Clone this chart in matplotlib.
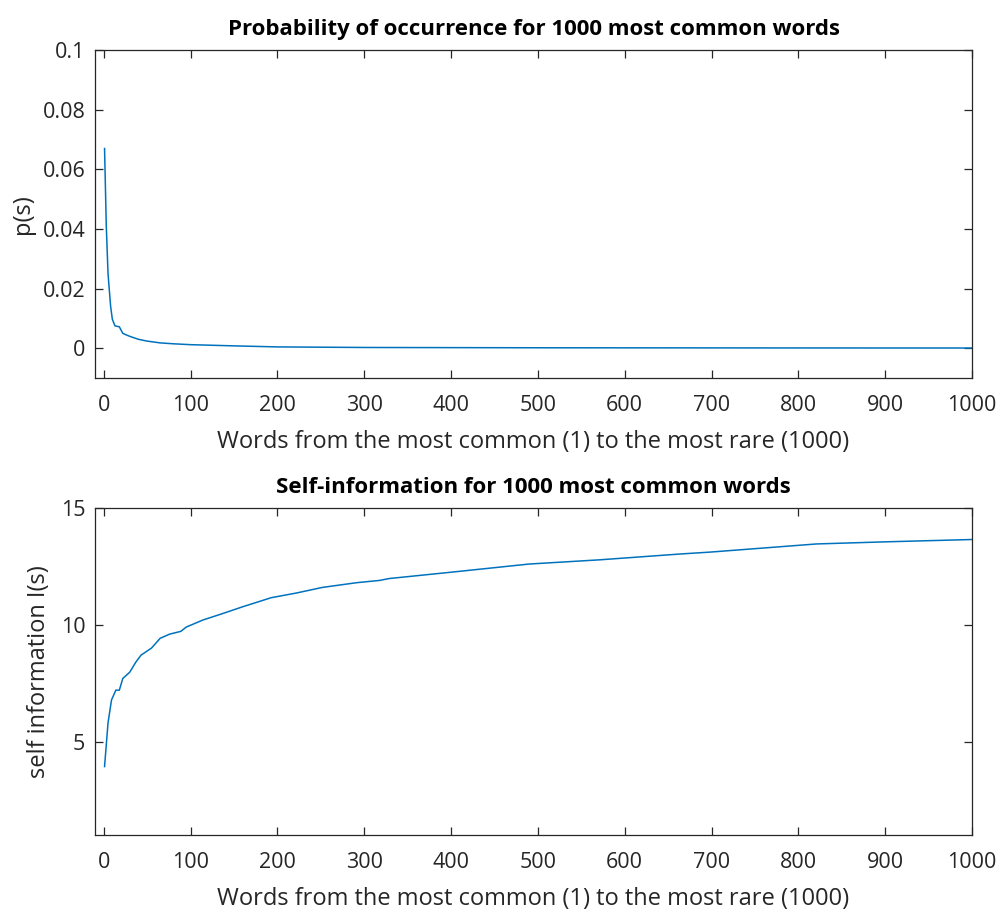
import numpy as np
import matplotlib
matplotlib.use('Agg')
import matplotlib.pyplot as plt

# probability of occurrence
rank_p = [1, 3, 5, 8, 10, 13, 18, 22, 25, 30, 40, 50, 65, 80, 100, 150, 200,
          300, 400, 500, 600, 700, 800, 900, 1000]
p_vals = [0.067, 0.041, 0.025, 0.014, 0.0097, 0.0075, 0.0072, 0.0050, 0.0046,
          0.0040, 0.0030, 0.0024, 0.0018, 0.0015, 0.0012, 0.0008, 0.00045,
          0.00026, 0.00021, 0.00016, 0.00014, 0.00012, 0.0001, 0.00009, 0.00008]

# self-information
rank_i = [1, 5, 9, 14, 18, 22, 30, 37, 43, 55, 65, 76, 89, 95, 114, 137, 160,
          193, 222, 252, 291, 318, 329, 400, 490, 571, 664, 698, 821, 900, 1000]
info_vals = [3.93, 5.8, 6.78, 7.2, 7.2, 7.7, 7.97, 8.4, 8.7, 9.0, 9.42, 9.6,
             9.72, 9.9, 10.2, 10.48, 10.77, 11.16, 11.36, 11.6, 11.8, 11.9,
             11.98, 12.25, 12.6, 12.78, 13.03, 13.11, 13.46, 13.55, 13.65]

x_ticks = list(range(0, 1001, 100))
line_color = '#0072BD'
text_color = '#262626'

plt.rcParams['font.family'] = ['Open Sans', 'DejaVu Sans']

fig = plt.figure(figsize=(10, 9.11), dpi=100)
ax1 = fig.add_axes([0.095, 0.585, 0.877, 0.360])
ax2 = fig.add_axes([0.095, 0.0834, 0.877, 0.359])

ax1.plot(rank_p, p_vals, color=line_color, linewidth=1.1)
ax1.set_xlim(-10, 1000)
ax1.set_ylim(-0.01, 0.1)
ax1.set_yticks([0, 0.02, 0.04, 0.06, 0.08, 0.1])
ax1.set_yticklabels(['0', '0.02', '0.04', '0.06', '0.08', '0.1'])
ax1.set_ylabel('p(s)', labelpad=5)
ax1.set_title('Probability of occurrence for 1000 most common words',
              fontweight='bold', fontsize=16, color='black', pad=11)

ax2.plot(rank_i, info_vals, color=line_color, linewidth=1.1)
ax2.set_xlim(-10, 1000)
ax2.set_ylim(1, 15)
ax2.set_yticks([5, 10, 15])
ax2.set_ylabel('self information I(s)', labelpad=7)
ax2.set_title('Self-information for 1000 most common words',
              fontweight='bold', fontsize=16, color='black', pad=11)

for ax in [ax1, ax2]:
    ax.set_xticks(x_ticks)
    ax.set_xlabel('Words from the most common (1) to the most rare (1000)',
                  fontsize=17, color=text_color, labelpad=10)
    ax.yaxis.label.set_size(17)
    ax.yaxis.label.set_color(text_color)
    ax.tick_params(direction='in', top=True, right=True, length=6, width=0.9,
                   labelsize=15.5, colors=text_color)
    ax.tick_params(axis='x', pad=12)
    ax.tick_params(axis='y', pad=7)
    for s in ax.spines.values():
        s.set_color(text_color)
        s.set_linewidth(0.9)

fig.savefig('out.png', dpi=100, facecolor='white')
